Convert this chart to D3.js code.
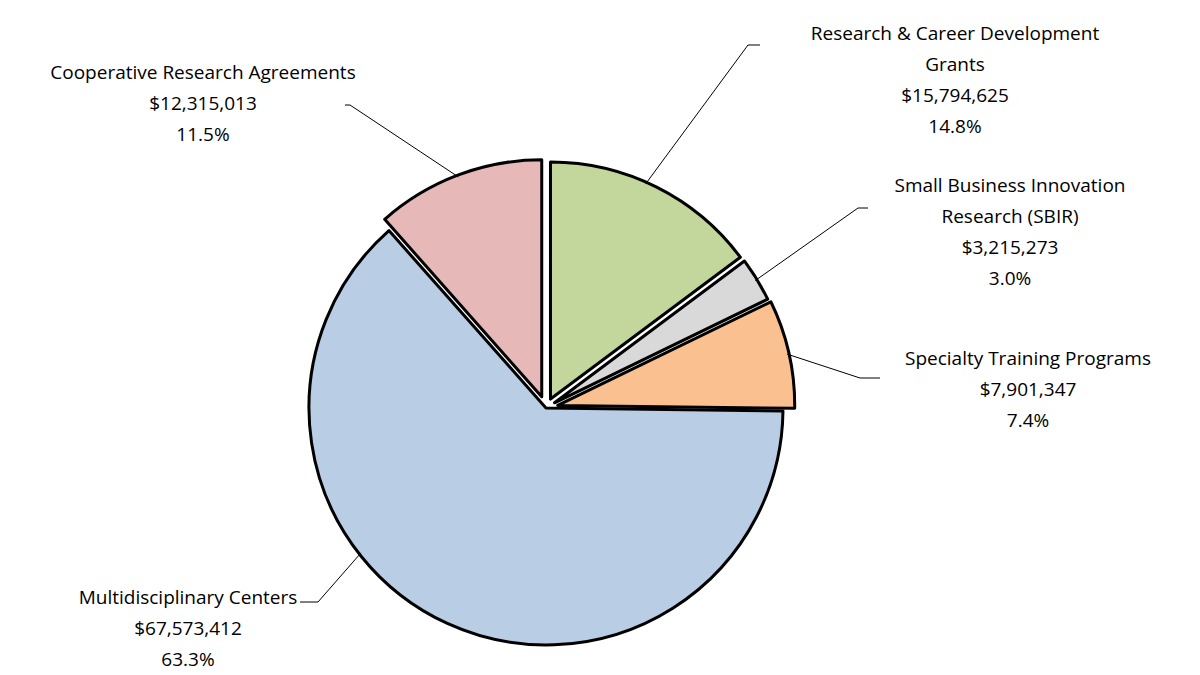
<!DOCTYPE html>
<html>
<head>
<meta charset="utf-8">
<script src="https://cdn.jsdelivr.net/npm/d3@7"></script>
<style>
body { margin: 0; background: #fff; }
text { font-family: "Open Sans", "DejaVu Sans", sans-serif; font-size: 19px; fill: #000; }
</style>
</head>
<body>
<svg id="chart" width="1200" height="675"></svg>
<script>
const categories = ["Research & Career Development Grants", "Small Business Innovation Research (SBIR)", "Specialty Training Programs", "Multidisciplinary Centers", "Cooperative Research Agreements"]
const amounts = [15794625, 3215273, 7901347, 67573412, 12315013]
const percents = ["14.8%", "3.0%", "7.4%", "63.3%", "11.5%"]
const labelLines = [
  ["Research & Career Development", "Grants"],
  ["Small Business Innovation", "Research (SBIR)"],
  ["Specialty Training Programs"],
  ["Multidisciplinary Centers"],
  ["Cooperative Research Agreements"]
]
const colors = ["#c3d69b", "#d9d9d9", "#fac090", "#b9cde5", "#e6b9b8"]
const explode = [10, 10, 12, 0, 12]

// label layout (x center, top baseline) and leader line elbows
const labelPos = [[955, 40], [1010, 192], [1028, 365], [188, 604], [203, 79]]
const elbows = [[[748, 45], [760, 45]], [[858, 208], [868, 208]], [[860, 378], [880, 378]], [[318, 602], [300, 602]], [[350, 105], [345, 105]]]

const svg = d3.select("#chart")
const cx = 546, cy = 408, r = 237
const fmt = d3.format("$,")

const pie = d3.pie().sort(null).value(d => d)
const arcs = pie(amounts)
const arc = d3.arc().innerRadius(0).outerRadius(r)

const g = svg.append("g").attr("transform", `translate(${cx},${cy})`)

arcs.forEach((a, i) => {
  const mid = (a.startAngle + a.endAngle) / 2
  const dx = Math.sin(mid) * explode[i], dy = -Math.cos(mid) * explode[i]
  g.append("path")
    .attr("d", arc(a))
    .attr("transform", `translate(${dx},${dy})`)
    .attr("fill", colors[i])
    .attr("stroke", "#000")
    .attr("stroke-width", 3)
    .attr("stroke-linejoin", "round")

  // leader line from outer edge
  const rr = r + explode[i] - 2
  let ang = mid
  if (i == 3) ang = a.startAngle + (a.endAngle - a.startAngle) * 0.62
  if (i == 0) ang = a.startAngle + (a.endAngle - a.startAngle) * 0.45
  const p0 = [cx + Math.sin(ang) * rr, cy - Math.cos(ang) * rr]
  const pts = [p0].concat(elbows[i])
  svg.append("path")
    .attr("d", d3.line()(pts))
    .attr("fill", "none")
    .attr("stroke", "#000")
    .attr("stroke-width", 1)

  const lines = labelLines[i].concat([fmt(amounts[i]), percents[i]])
  const t = svg.append("text").attr("text-anchor", "middle")
  lines.forEach((s, k) => {
    t.append("tspan").attr("x", labelPos[i][0]).attr("y", labelPos[i][1] + k * 31).text(s)
  })
})
</script>
</body>
</html>
